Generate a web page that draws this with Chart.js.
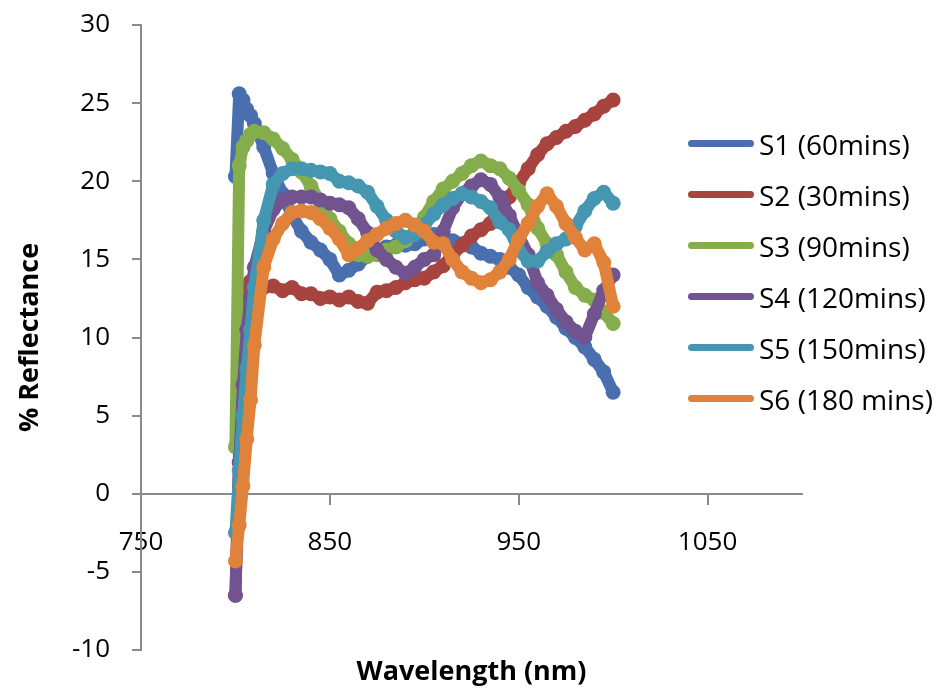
<!DOCTYPE html>
<html>
<head>
<meta charset="utf-8">
<script src="https://cdn.jsdelivr.net/npm/chart.js@4/dist/chart.umd.min.js"></script>
<style>
  body { margin: 0; background: #fff; }
  #wrap { position: relative; width: 942px; height: 696px; }
  #legend { position: absolute; left: 688px; top: 118px; font-family: 'Open Sans', sans-serif; font-size: 28px; color: #000; }
  .item { display: flex; align-items: center; height: 51px; white-space: nowrap; }
  .swatch { width: 66px; height: 7px; border-radius: 4px; margin-right: 5px; }
</style>
</head>
<body>
<div id="wrap">
  <canvas id="spectra" width="942" height="696"></canvas>
  <div id="legend"></div>
</div>
<script>
const wavelengths = [800, 802, 804, 806, 808, 810, 815, 820, 825, 830, 835, 840, 845, 850, 855, 860, 865, 870, 875, 880,
  885, 890, 895, 900, 905, 910, 915, 920, 925, 930, 935, 940, 945, 950, 955, 960, 965, 970, 975, 980, 985, 990, 995, 1000];

const seriesNames = ['S1 (60mins)', 'S2 (30mins)', 'S3 (90mins)', 'S4 (120mins)', 'S5 (150mins)', 'S6 (180 mins)'];

const s1 = [20.3, 25.6, 25.2, 24.6, 24.2, 23.7, 22.2, 20.5, 19.2, 17.8, 16.8, 16.1, 15.6, 15.0, 14.0, 14.3, 14.7, 15.2, 15.6, 15.8,
  15.9, 15.9, 16.0, 16.3, 16.6, 16.4, 16.2, 16.0, 15.8, 15.4, 15.2, 15.0, 14.5, 14.0, 13.2, 12.6, 12.0, 11.3, 10.6, 10.0, 9.4, 8.6, 7.8, 6.5];
const s2 = [-6.5, 3, 10, 13.3, 13.6, 13.5, 13.2, 13.3, 13.0, 13.2, 12.8, 12.8, 12.5, 12.6, 12.4, 12.6, 12.3, 12.2, 12.9, 13.0,
  13.2, 13.5, 13.7, 13.8, 14.2, 14.6, 15.3, 15.9, 16.5, 16.9, 17.3, 18.2, 19.0, 19.9, 20.8, 21.7, 22.4, 22.8, 23.2, 23.5, 23.9, 24.3, 24.8, 25.2];
const s3 = [3, 21.0, 22.2, 22.6, 23.0, 23.2, 23.1, 22.7, 22.1, 21.4, 20.6, 19.7, 18.6, 17.6, 16.8, 16.0, 15.3, 15.2, 15.3, 15.6,
  15.8, 16.2, 16.8, 17.7, 18.7, 19.5, 20.0, 20.5, 21.0, 21.3, 21.0, 20.8, 20.2, 19.4, 18.5, 17.0, 16.0, 15.3, 14.2, 13.2, 12.7, 12.4, 11.6, 10.9];
const s4 = [-6.5, 2, 7, 10.5, 12.5, 14.5, 16.8, 18.2, 18.8, 19.0, 19.0, 19.0, 18.8, 18.6, 18.5, 18.3, 17.6, 16.7, 15.6, 15.0,
  14.5, 14.1, 14.5, 15.0, 15.3, 16.8, 18.3, 19.2, 19.7, 20.1, 19.8, 19.0, 17.8, 16.5, 15.3, 13.5, 12.7, 11.8, 11.0, 10.4, 10.0, 11.5, 13.0, 14.0];
const s5 = [-2.5, 1.5, 5, 8, 10.5, 13.2, 17.5, 19.8, 20.5, 20.8, 20.8, 20.7, 20.6, 20.5, 20.0, 19.9, 19.7, 19.3, 18.4, 17.5,
  16.8, 16.4, 16.6, 17.2, 17.9, 18.5, 18.9, 19.2, 19.0, 18.7, 18.3, 17.4, 16.9, 15.6, 14.9, 14.9, 15.5, 16.0, 16.3, 17.1, 18.1, 18.9, 19.3, 18.6];
const s6 = [-4.3, -2, 0.5, 3.5, 6.0, 9.5, 14.5, 16.3, 17.3, 18.0, 18.1, 18.0, 17.6, 17.0, 16.3, 15.3, 15.7, 16.2, 16.6, 17.0,
  17.3, 17.5, 17.2, 16.8, 16.1, 16.0, 15.0, 14.2, 13.8, 13.5, 13.7, 14.2, 15.0, 16.3, 17.3, 18.4, 19.2, 18.4, 17.3, 16.4, 15.6, 16.0, 14.8, 12.0];

const seriesValues = [s1, s2, s3, s4, s5, s6];
const seriesColors = ['#4a6fae', '#a8443f', '#86ad4b', '#71538f', '#4596b0', '#e0823a'];

const xTicks = [750, 850, 950, 1050];

const axisGray = '#8a8a8a';
const fontFamily = "'Open Sans', sans-serif";

const datasets = seriesNames.map((name, i) => ({
  label: name,
  data: wavelengths.map((w, j) => ({ x: w, y: seriesValues[i][j] })),
  borderColor: seriesColors[i],
  backgroundColor: seriesColors[i],
  borderWidth: 12,
  borderJoinStyle: 'round',
  borderCapStyle: 'round',
  pointRadius: 7.5,
  pointBorderWidth: 0,
  pointHoverRadius: 7.5,
  tension: 0,
  order: seriesNames.length - i
}));

new Chart(document.getElementById('spectra'), {
  type: 'line',
  data: { datasets: datasets },
  options: {
    responsive: false,
    animation: false,
    devicePixelRatio: 1,
    events: [],
    layout: { padding: { left: 12, top: 25, right: 140, bottom: 0 } },
    plugins: { legend: { display: false }, tooltip: { enabled: false } },
    scales: {
      x: {
        type: 'linear',
        min: 750,
        max: 1100,
        position: { y: 0 },
        afterBuildTicks: axis => { axis.ticks = xTicks.map(v => ({ value: v })); },
        grid: { drawOnChartArea: false, tickLength: 10, color: axisGray, lineWidth: 2 },
        border: { color: axisGray, width: 2 },
        ticks: {
          padding: 23,
          maxRotation: 0,
          color: '#000',
          font: { family: fontFamily, size: 26 },
          callback: v => String(v)
        }
      },
      xTitle: {
        type: 'linear',
        axis: 'x',
        position: 'bottom',
        min: 750,
        max: 1100,
        grid: { display: false },
        border: { display: false },
        ticks: { display: false },
        afterFit: s => { s.height = 46; },
        title: {
          display: true,
          text: 'Wavelength (nm)',
          color: '#000',
          font: { family: fontFamily, size: 27, weight: 'bold' },
          padding: { top: 6, bottom: 7 }
        }
      },
      y: {
        min: -10,
        max: 30,
        position: 'left',
        afterFit: s => { s.width = 129; s.paddingTop = 16; s.paddingBottom = 16; },
        grid: { drawOnChartArea: false, tickLength: 9, color: axisGray, lineWidth: 2 },
        border: { color: axisGray, width: 2 },
        ticks: { stepSize: 5, padding: 22, color: '#000', font: { family: fontFamily, size: 26 } },
        title: {
          display: true,
          text: '% Reflectance',
          color: '#000',
          font: { family: fontFamily, size: 27, weight: 'bold' },
          padding: { top: 2, bottom: 10 }
        }
      }
    }
  }
});

const legendBox = document.getElementById('legend');
seriesNames.forEach((name, i) => {
  const row = document.createElement('div');
  row.className = 'item';
  const sw = document.createElement('span');
  sw.className = 'swatch';
  sw.style.background = seriesColors[i];
  const txt = document.createElement('span');
  txt.textContent = name;
  row.appendChild(sw);
  row.appendChild(txt);
  legendBox.appendChild(row);
});
</script>
</body>
</html>
